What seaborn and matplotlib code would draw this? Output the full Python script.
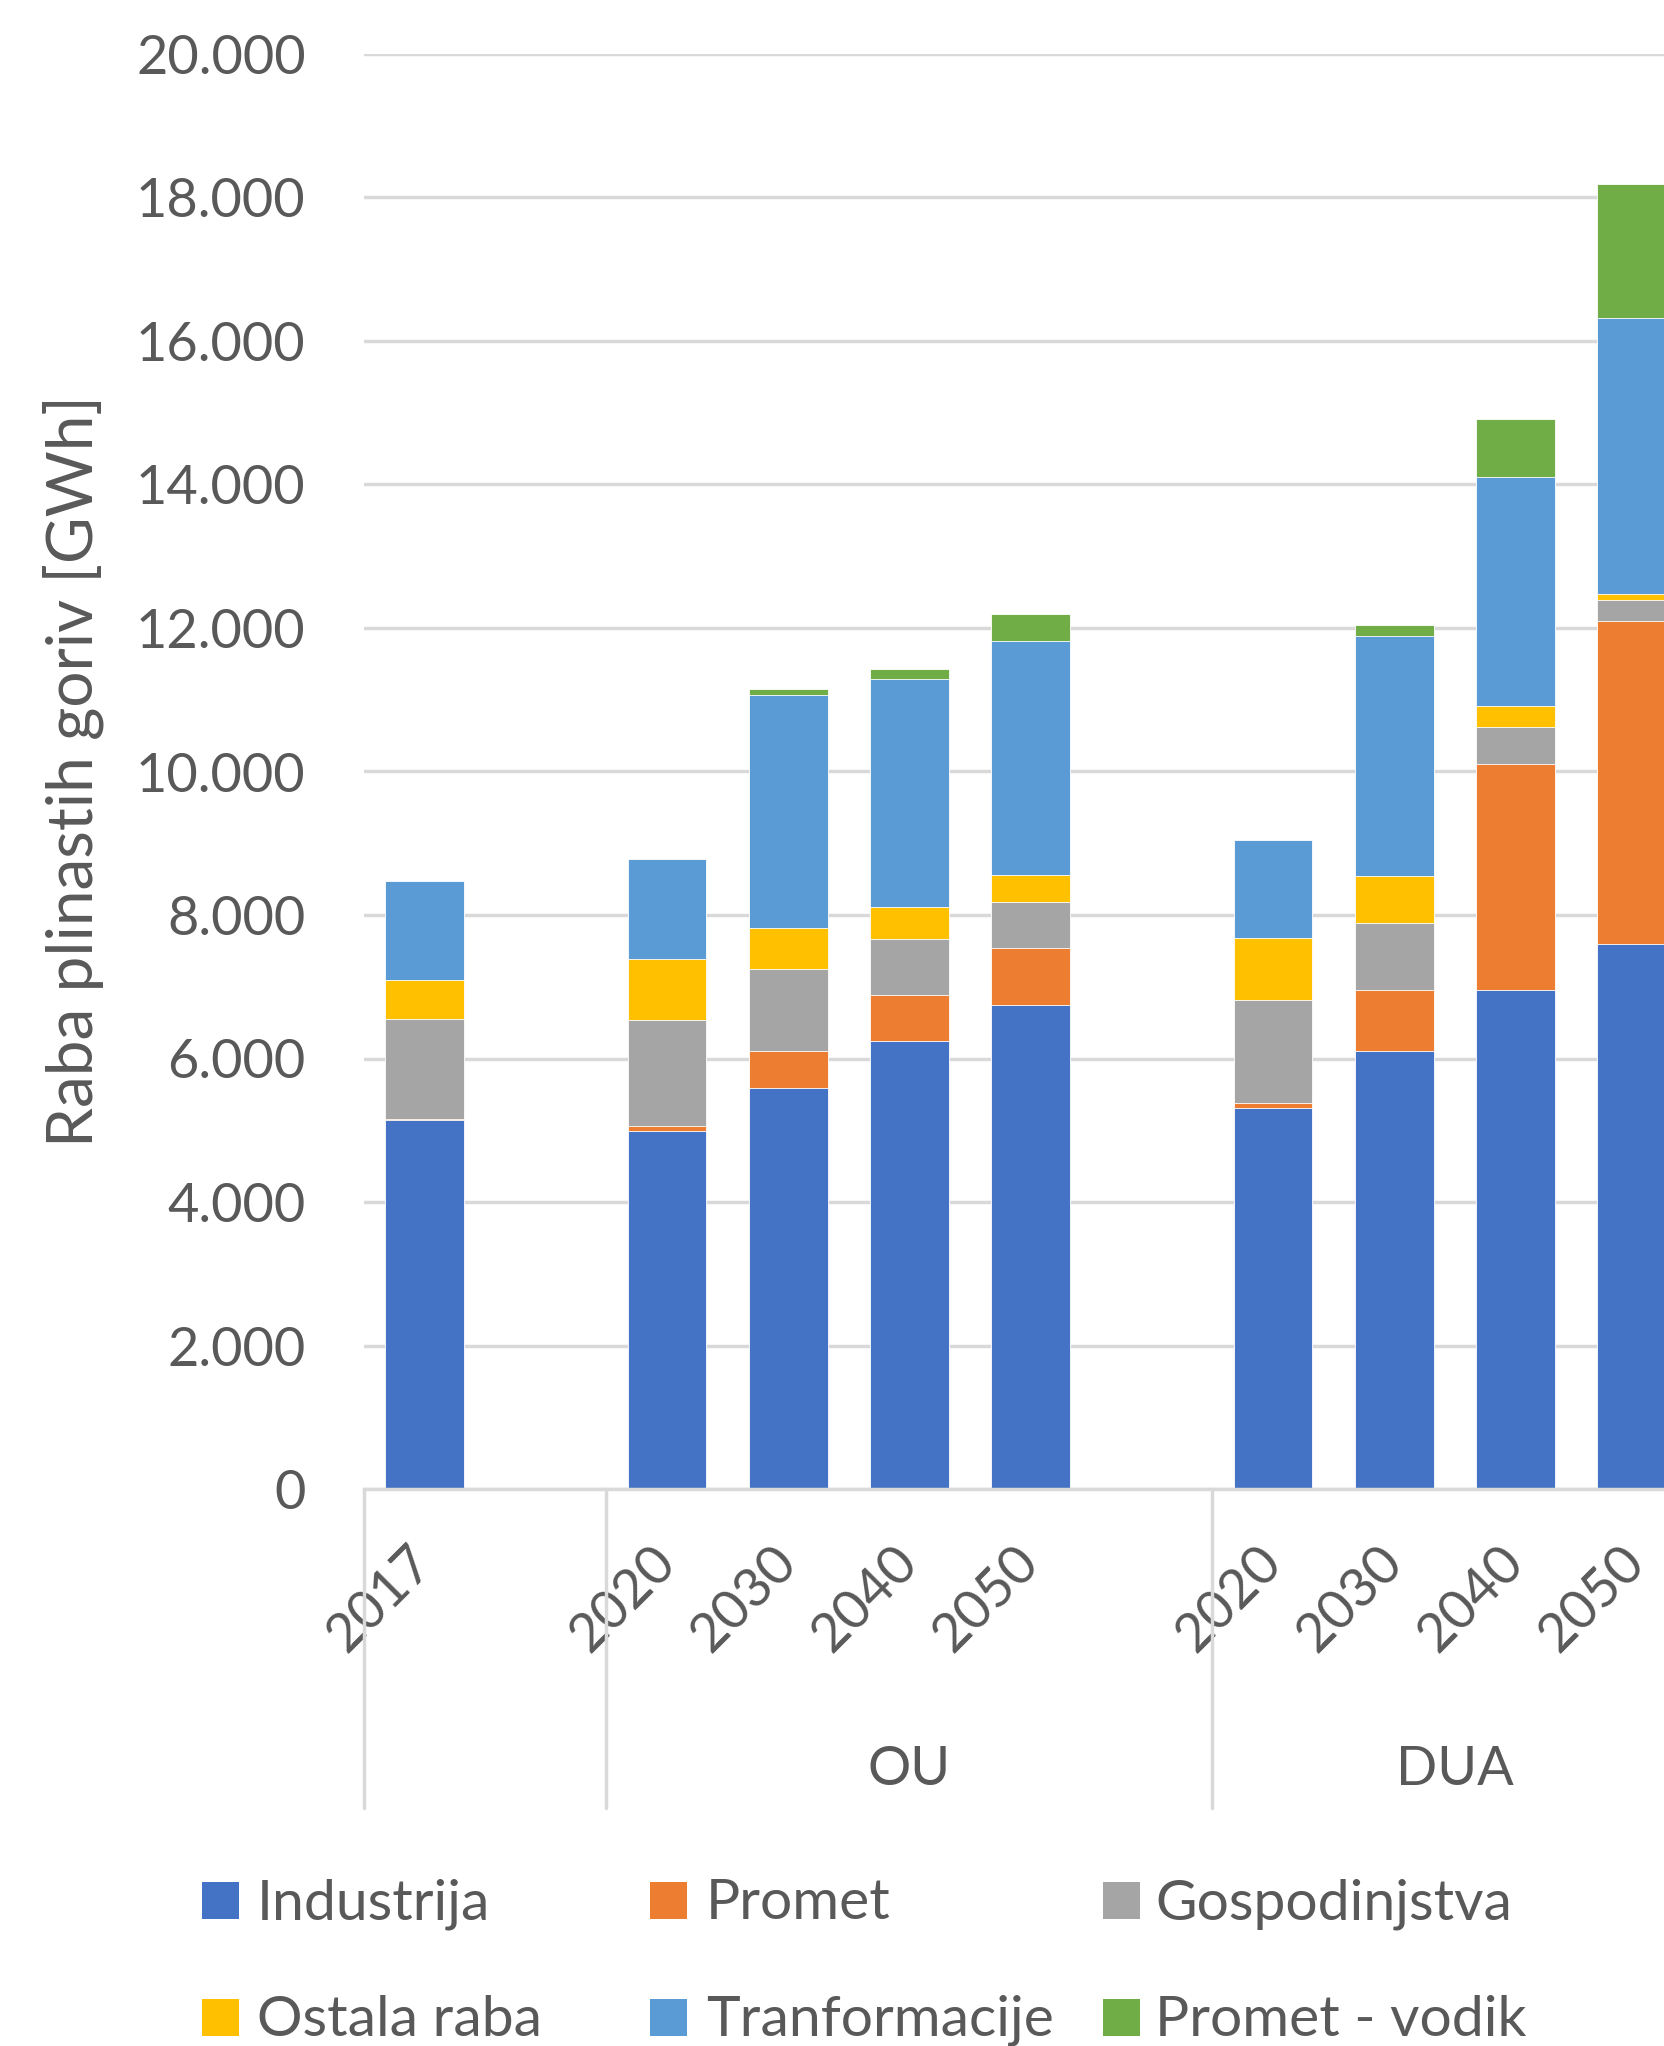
import matplotlib
matplotlib.use("Agg")
import matplotlib.pyplot as plt
import matplotlib.transforms as mtransforms
from matplotlib.patches import Rectangle
from matplotlib.lines import Line2D
from matplotlib.ticker import FuncFormatter, MultipleLocator
import seaborn as sns
import numpy as np

# ---------------- data ----------------
categories = ["2017", "OU 2020", "OU 2030", "OU 2040", "OU 2050",
              "DUA 2020", "DUA 2030", "DUA 2040", "DUA 2050"]
slot_order = ["2017", "_gap1", "OU 2020", "OU 2030", "OU 2040", "OU 2050",
              "_gap2", "DUA 2020", "DUA 2030", "DUA 2040", "DUA 2050"]
tick_labels = ["2017", "", "2020", "2030", "2040", "2050",
               "", "2020", "2030", "2040", "2050"]
groups = ["OU", "DUA"]

industrija = [5140, 4990, 5590, 6240, 6750, 5310, 6100, 6960, 7600]
promet = [10, 75, 510, 640, 790, 75, 860, 3140, 4500]
gospodinjstva = [1400, 1470, 1150, 790, 640, 1430, 930, 515, 285]
ostala_raba = [550, 845, 575, 435, 380, 865, 650, 300, 90]
tranformacije = [1380, 1395, 3245, 3180, 3260, 1365, 3350, 3195, 3850]
promet_vodik = [0, 0, 75, 145, 370, 0, 150, 805, 1860]

series_names = ["Industrija", "Promet", "Gospodinjstva",
                "Ostala raba", "Tranformacije", "Promet - vodik"]
series_values = [industrija, promet, gospodinjstva,
                 ostala_raba, tranformacije, promet_vodik]
colors = ["#4472C4", "#ED7D31", "#A5A5A5", "#FFC000", "#5B9BD5", "#70AD47"]

# ---------------- style ----------------
sns.set_style("white")
plt.rcParams["font.family"] = ["Lato", "DejaVu Sans"]
TXT = "#595959"
GRID = "#D9D9D9"

W, H = 1665, 2046
fig = plt.figure(figsize=(W / 100, H / 100), dpi=100)
fig.patch.set_facecolor("white")

ax_left, ax_right = 364, 364 + 11 * 121.2
ax_top, ax_bottom = 54, 1489
ax = fig.add_axes([ax_left / W, 1 - ax_bottom / H,
                   (ax_right - ax_left) / W, (ax_bottom - ax_top) / H])

# stacked bars: draw cumulative totals from the top layer downwards
cums = np.cumsum(np.array(series_values, dtype=float), axis=0)
for i in reversed(range(len(series_names))):
    sns.barplot(x=categories, y=cums[i], order=slot_order, color=colors[i],
                saturation=1, width=0.65, ax=ax, errorbar=None,
                edgecolor="white", linewidth=0.6)

ax.set_xlim(-0.5, 10.5)
ax.set_ylim(0, 20000)
ax.yaxis.set_major_locator(MultipleLocator(2000))
ax.yaxis.set_major_formatter(FuncFormatter(lambda v, _: f"{int(v):,}".replace(",", ".")))
ax.grid(axis="y", color=GRID, linewidth=2.5)
ax.grid(axis="x", visible=False)
ax.set_axisbelow(True)
for s in ["top", "right", "left"]:
    ax.spines[s].set_visible(False)
ax.spines["bottom"].set_color(GRID)
ax.spines["bottom"].set_linewidth(2.5)
ax.set_xlabel("")
ax.set_ylabel("")

ax.tick_params(axis="y", length=0, pad=42, labelsize=39, labelcolor=TXT)
ax.set_xticks(range(len(slot_order)))
ax.set_xticklabels(tick_labels, rotation=45, ha="right", va="center",
                   rotation_mode="anchor")
ax.tick_params(axis="x", length=0, pad=47, labelsize=39, labelcolor=TXT)

# multi-level category separators and group labels
trans = mtransforms.blended_transform_factory(ax.transData, ax.transAxes)
sep_bottom = -(1808 - ax_bottom) / (ax_bottom - ax_top)
for xv in [-0.5, 1.5, 6.5]:
    ax.add_line(Line2D([xv, xv], [0, sep_bottom], transform=trans,
                       color=GRID, linewidth=2.5, clip_on=False))
grp_y = -(1785 - ax_bottom) / (ax_bottom - ax_top)
for g, xc in zip(groups, [4.0, 8.5]):
    ax.text(xc, grp_y, g, transform=trans, ha="center", va="baseline",
            fontsize=39, color=TXT)

# y axis title
fig.text(73 / W, 1 - 771 / H, "Raba plinastih goriv [GWh]", rotation=90,
         ha="center", va="center", fontsize=46, color=TXT)

# legend (3 columns x 2 rows)
col_marker_x = [202, 650, 1103]
col_text_x = [257, 706, 1155]
row_y = [1900, 2017]
msz = 37
for i, (name, c) in enumerate(zip(series_names, colors)):
    col, row = i % 3, i // 3
    yc = row_y[row]
    fig.add_artist(Rectangle((col_marker_x[col] / W, 1 - (yc + msz / 2) / H),
                             msz / W, msz / H, transform=fig.transFigure,
                             facecolor=c, edgecolor="none"))
    fig.text(col_text_x[col] / W, 1 - (yc + 19) / H, name, ha="left",
             va="baseline", fontsize=41, color=TXT)

fig.savefig("out.png", dpi=100)
